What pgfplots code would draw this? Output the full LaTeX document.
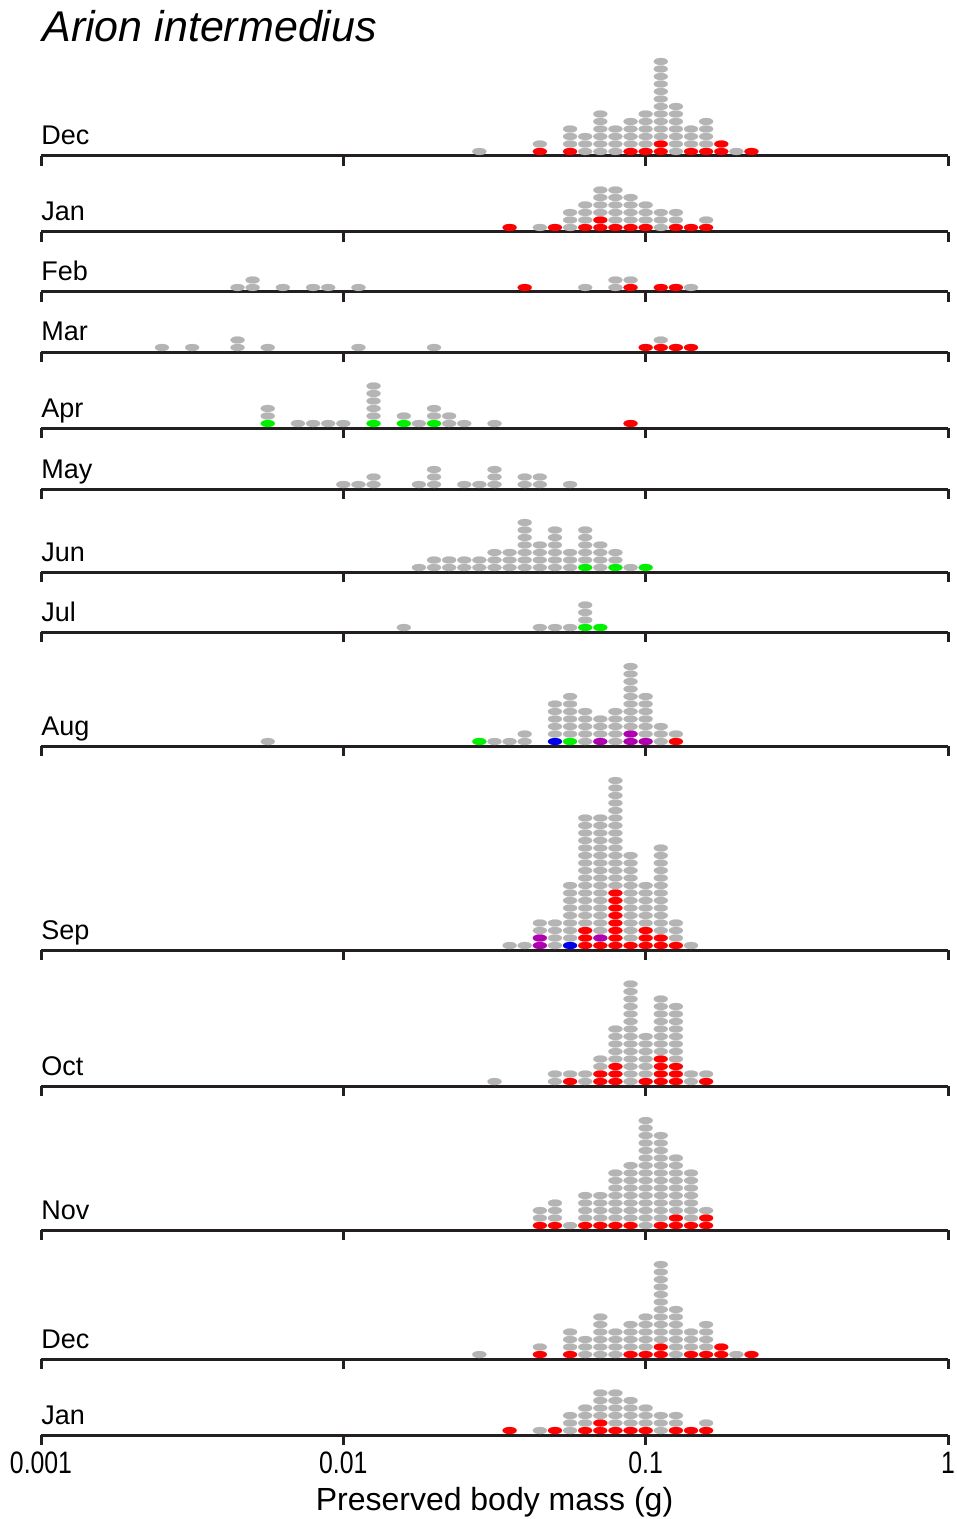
\documentclass[border=0pt]{standalone}
\usepackage{pgfplots}
\pgfplotsset{compat=1.18}
\usepackage{fontspec}
\setmainfont{Liberation Sans}
\definecolor{dgray}{RGB}{180,180,180}
\definecolor{dred}{RGB}{255,0,0}
\definecolor{dgreen}{RGB}{0,240,0}
\definecolor{dblue}{RGB}{0,0,235}
\definecolor{dpurple}{RGB}{175,0,175}
\definecolor{axc}{RGB}{35,31,32}
\pgfplotsset{
  panel/.style={
    scale only axis, width=453.5pt, y=3.75pt,
    xmin=-3, xmax=0, ymin=0.4,
    enlargelimits=false,
    axis x line*=bottom, axis y line=none,
    xtick={-3,-2,-1,0}, xticklabels={}, ytick=\empty,
    tick align=outside, major tick length=5pt,
    x axis line style={-, line width=1.5pt, color=axc},
    every tick/.style={line width=1.5pt, color=axc},
    clip=false, anchor=south west,
  },
  dots/.style={only marks, color=#1, mark=*, mark size=1.75pt, mark options={xscale=2, fill=#1, draw=#1, line width=0.1pt}},
}
\newcommand{\mlabel}[1]{\node[anchor=base west, font=\fontsize{13.5}{15}\selectfont, inner sep=0pt, yshift=5.5pt] at (rel axis cs:0,0) {#1};}
\begin{document}
\begin{tikzpicture}
\useasboundingbox (0,0) rectangle (478.5pt,-759.5pt);
\node[anchor=base west, font=\itshape\fontsize{21.5}{24}\selectfont, inner sep=0pt] at (21pt,-21pt) {Arion intermedius};

% Dec
\begin{axis}[panel, at={(20.5pt,-78pt)}]
\addplot[dots=dgray] coordinates {(-1.55,1) (-1.35,2) (-1.25,2) (-1.25,3) (-1.25,4) (-1.2,1) (-1.2,2) (-1.2,3) (-1.15,1) (-1.15,2) (-1.15,3) (-1.15,4) (-1.15,5) (-1.15,6) (-1.1,1) (-1.1,2) (-1.1,3) (-1.1,4) (-1.05,2) (-1.05,3) (-1.05,4) (-1.05,5) (-1,2) (-1,3) (-1,4) (-1,5) (-1,6) (-0.95,3) (-0.95,4) (-0.95,5) (-0.95,6) (-0.95,7) (-0.95,8) (-0.95,9) (-0.95,10) (-0.95,11) (-0.95,12) (-0.95,13) (-0.9,1) (-0.9,2) (-0.9,3) (-0.9,4) (-0.9,5) (-0.9,6) (-0.9,7) (-0.85,2) (-0.85,3) (-0.85,4) (-0.8,2) (-0.8,3) (-0.8,4) (-0.8,5) (-0.7,1)};
\addplot[dots=dred] coordinates {(-1.35,1) (-1.25,1) (-1.05,1) (-1,1) (-0.95,1) (-0.95,2) (-0.85,1) (-0.8,1) (-0.75,1) (-0.75,2) (-0.65,1)};
\mlabel{Dec}
\end{axis}

% Jan
\begin{axis}[panel, at={(20.5pt,-116pt)}]
\addplot[dots=dgray] coordinates {(-1.35,1) (-1.25,1) (-1.25,2) (-1.25,3) (-1.2,2) (-1.2,3) (-1.2,4) (-1.15,3) (-1.15,4) (-1.15,5) (-1.15,6) (-1.1,2) (-1.1,3) (-1.1,4) (-1.1,5) (-1.1,6) (-1.05,2) (-1.05,3) (-1.05,4) (-1.05,5) (-1,2) (-1,3) (-1,4) (-0.95,1) (-0.95,2) (-0.95,3) (-0.9,2) (-0.9,3) (-0.8,2)};
\addplot[dots=dred] coordinates {(-1.45,1) (-1.3,1) (-1.2,1) (-1.15,1) (-1.15,2) (-1.1,1) (-1.05,1) (-1,1) (-0.9,1) (-0.85,1) (-0.8,1)};
\mlabel{Jan}
\end{axis}

% Feb
\begin{axis}[panel, at={(20.5pt,-146pt)}]
\addplot[dots=dgray] coordinates {(-2.35,1) (-2.3,1) (-2.3,2) (-2.2,1) (-2.1,1) (-2.05,1) (-1.95,1) (-1.2,1) (-1.1,1) (-1.1,2) (-1.05,2) (-0.85,1)};
\addplot[dots=dred] coordinates {(-1.4,1) (-1.05,1) (-0.95,1) (-0.9,1)};
\mlabel{Feb}
\end{axis}

% Mar
\begin{axis}[panel, at={(20.5pt,-176pt)}]
\addplot[dots=dgray] coordinates {(-2.6,1) (-2.5,1) (-2.35,1) (-2.35,2) (-2.25,1) (-1.95,1) (-1.7,1) (-0.95,2)};
\addplot[dots=dred] coordinates {(-1,1) (-0.95,1) (-0.9,1) (-0.85,1)};
\mlabel{Mar}
\end{axis}

% Apr
\begin{axis}[panel, at={(20.5pt,-214pt)}]
\addplot[dots=dgray] coordinates {(-2.25,2) (-2.25,3) (-2.15,1) (-2.1,1) (-2.05,1) (-2,1) (-1.9,2) (-1.9,3) (-1.9,4) (-1.9,5) (-1.9,6) (-1.8,2) (-1.75,1) (-1.7,2) (-1.7,3) (-1.65,1) (-1.65,2) (-1.6,1) (-1.5,1)};
\addplot[dots=dgreen] coordinates {(-2.25,1) (-1.9,1) (-1.8,1) (-1.7,1)};
\addplot[dots=dred] coordinates {(-1.05,1)};
\mlabel{Apr}
\end{axis}

% May
\begin{axis}[panel, at={(20.5pt,-244.5pt)}]
\addplot[dots=dgray] coordinates {(-2,1) (-1.95,1) (-1.9,1) (-1.9,2) (-1.75,1) (-1.7,1) (-1.7,2) (-1.7,3) (-1.6,1) (-1.55,1) (-1.5,1) (-1.5,2) (-1.5,3) (-1.4,1) (-1.4,2) (-1.35,1) (-1.35,2) (-1.25,1)};
\mlabel{May}
\end{axis}

% Jun
\begin{axis}[panel, at={(20.5pt,-286pt)}]
\addplot[dots=dgray] coordinates {(-1.75,1) (-1.7,1) (-1.7,2) (-1.65,1) (-1.65,2) (-1.6,1) (-1.6,2) (-1.55,1) (-1.55,2) (-1.5,1) (-1.5,2) (-1.5,3) (-1.45,1) (-1.45,2) (-1.45,3) (-1.4,1) (-1.4,2) (-1.4,3) (-1.4,4) (-1.4,5) (-1.4,6) (-1.4,7) (-1.35,1) (-1.35,2) (-1.35,3) (-1.35,4) (-1.3,1) (-1.3,2) (-1.3,3) (-1.3,4) (-1.3,5) (-1.3,6) (-1.25,1) (-1.25,2) (-1.25,3) (-1.2,2) (-1.2,3) (-1.2,4) (-1.2,5) (-1.2,6) (-1.15,1) (-1.15,2) (-1.15,3) (-1.15,4) (-1.1,2) (-1.1,3) (-1.05,1)};
\addplot[dots=dgreen] coordinates {(-1.2,1) (-1.1,1) (-1,1)};
\mlabel{Jun}
\end{axis}

% Jul
\begin{axis}[panel, at={(20.5pt,-316pt)}]
\addplot[dots=dgray] coordinates {(-1.8,1) (-1.35,1) (-1.3,1) (-1.25,1) (-1.2,2) (-1.2,3) (-1.2,4)};
\addplot[dots=dgreen] coordinates {(-1.2,1) (-1.15,1)};
\mlabel{Jul}
\end{axis}

% Aug
\begin{axis}[panel, at={(20.5pt,-373pt)}]
\addplot[dots=dgray] coordinates {(-2.25,1) (-1.5,1) (-1.45,1) (-1.4,1) (-1.4,2) (-1.3,2) (-1.3,3) (-1.3,4) (-1.3,5) (-1.3,6) (-1.25,2) (-1.25,3) (-1.25,4) (-1.25,5) (-1.25,6) (-1.25,7) (-1.2,1) (-1.2,2) (-1.2,3) (-1.2,4) (-1.2,5) (-1.15,2) (-1.15,3) (-1.15,4) (-1.1,1) (-1.1,2) (-1.1,3) (-1.1,4) (-1.1,5) (-1.05,3) (-1.05,4) (-1.05,5) (-1.05,6) (-1.05,7) (-1.05,8) (-1.05,9) (-1.05,10) (-1.05,11) (-1,2) (-1,3) (-1,4) (-1,5) (-1,6) (-1,7) (-0.95,1) (-0.95,2) (-0.95,3) (-0.9,2)};
\addplot[dots=dgreen] coordinates {(-1.55,1) (-1.25,1)};
\addplot[dots=dblue] coordinates {(-1.3,1)};
\addplot[dots=dpurple] coordinates {(-1.15,1) (-1.05,1) (-1.05,2) (-1,1)};
\addplot[dots=dred] coordinates {(-0.9,1)};
\mlabel{Aug}
\end{axis}

% Sep
\begin{axis}[panel, at={(20.5pt,-475pt)}]
\addplot[dots=dgray] coordinates {(-1.45,1) (-1.4,1) (-1.35,3) (-1.35,4) (-1.3,1) (-1.3,2) (-1.3,3) (-1.3,4) (-1.25,2) (-1.25,3) (-1.25,4) (-1.25,5) (-1.25,6) (-1.25,7) (-1.25,8) (-1.25,9) (-1.2,4) (-1.2,5) (-1.2,6) (-1.2,7) (-1.2,8) (-1.2,9) (-1.2,10) (-1.2,11) (-1.2,12) (-1.2,13) (-1.2,14) (-1.2,15) (-1.2,16) (-1.2,17) (-1.2,18) (-1.15,3) (-1.15,4) (-1.15,5) (-1.15,6) (-1.15,7) (-1.15,8) (-1.15,9) (-1.15,10) (-1.15,11) (-1.15,12) (-1.15,13) (-1.15,14) (-1.15,15) (-1.15,16) (-1.15,17) (-1.15,18) (-1.1,9) (-1.1,10) (-1.1,11) (-1.1,12) (-1.1,13) (-1.1,14) (-1.1,15) (-1.1,16) (-1.1,17) (-1.1,18) (-1.1,19) (-1.1,20) (-1.1,21) (-1.1,22) (-1.1,23) (-1.05,2) (-1.05,3) (-1.05,4) (-1.05,5) (-1.05,6) (-1.05,7) (-1.05,8) (-1.05,9) (-1.05,10) (-1.05,11) (-1.05,12) (-1.05,13) (-1,4) (-1,5) (-1,6) (-1,7) (-1,8) (-1,9) (-0.95,3) (-0.95,4) (-0.95,5) (-0.95,6) (-0.95,7) (-0.95,8) (-0.95,9) (-0.95,10) (-0.95,11) (-0.95,12) (-0.95,13) (-0.95,14) (-0.9,2) (-0.9,3) (-0.9,4) (-0.85,1)};
\addplot[dots=dpurple] coordinates {(-1.35,1) (-1.35,2) (-1.15,2)};
\addplot[dots=dblue] coordinates {(-1.25,1)};
\addplot[dots=dred] coordinates {(-1.2,1) (-1.2,2) (-1.2,3) (-1.15,1) (-1.1,1) (-1.1,2) (-1.1,3) (-1.1,4) (-1.1,5) (-1.1,6) (-1.1,7) (-1.1,8) (-1.05,1) (-1,1) (-1,2) (-1,3) (-0.95,1) (-0.95,2) (-0.9,1)};
\mlabel{Sep}
\end{axis}

% Oct
\begin{axis}[panel, at={(20.5pt,-543pt)}]
\addplot[dots=dgray] coordinates {(-1.5,1) (-1.3,1) (-1.3,2) (-1.25,2) (-1.2,1) (-1.2,2) (-1.15,3) (-1.15,4) (-1.1,4) (-1.1,5) (-1.1,6) (-1.1,7) (-1.1,8) (-1.05,1) (-1.05,2) (-1.05,3) (-1.05,4) (-1.05,5) (-1.05,6) (-1.05,7) (-1.05,8) (-1.05,9) (-1.05,10) (-1.05,11) (-1.05,12) (-1.05,13) (-1.05,14) (-1,2) (-1,3) (-1,4) (-1,5) (-1,6) (-1,7) (-0.95,5) (-0.95,6) (-0.95,7) (-0.95,8) (-0.95,9) (-0.95,10) (-0.95,11) (-0.95,12) (-0.9,4) (-0.9,5) (-0.9,6) (-0.9,7) (-0.9,8) (-0.9,9) (-0.9,10) (-0.9,11) (-0.85,1) (-0.85,2) (-0.8,2)};
\addplot[dots=dred] coordinates {(-1.25,1) (-1.15,1) (-1.15,2) (-1.1,1) (-1.1,2) (-1.1,3) (-1,1) (-0.95,1) (-0.95,2) (-0.95,3) (-0.95,4) (-0.9,1) (-0.9,2) (-0.9,3) (-0.8,1)};
\mlabel{Oct}
\end{axis}

% Nov
\begin{axis}[panel, at={(20.5pt,-615pt)}]
\addplot[dots=dgray] coordinates {(-1.35,2) (-1.35,3) (-1.3,2) (-1.3,3) (-1.3,4) (-1.25,1) (-1.2,2) (-1.2,3) (-1.2,4) (-1.2,5) (-1.15,2) (-1.15,3) (-1.15,4) (-1.15,5) (-1.1,2) (-1.1,3) (-1.1,4) (-1.1,5) (-1.1,6) (-1.1,7) (-1.1,8) (-1.05,2) (-1.05,3) (-1.05,4) (-1.05,5) (-1.05,6) (-1.05,7) (-1.05,8) (-1.05,9) (-1,1) (-1,2) (-1,3) (-1,4) (-1,5) (-1,6) (-1,7) (-1,8) (-1,9) (-1,10) (-1,11) (-1,12) (-1,13) (-1,14) (-1,15) (-0.95,2) (-0.95,3) (-0.95,4) (-0.95,5) (-0.95,6) (-0.95,7) (-0.95,8) (-0.95,9) (-0.95,10) (-0.95,11) (-0.95,12) (-0.95,13) (-0.9,3) (-0.9,4) (-0.9,5) (-0.9,6) (-0.9,7) (-0.9,8) (-0.9,9) (-0.9,10) (-0.85,2) (-0.85,3) (-0.85,4) (-0.85,5) (-0.85,6) (-0.85,7) (-0.85,8) (-0.8,3)};
\addplot[dots=dred] coordinates {(-1.35,1) (-1.3,1) (-1.2,1) (-1.15,1) (-1.1,1) (-1.05,1) (-0.95,1) (-0.9,1) (-0.9,2) (-0.85,1) (-0.8,1) (-0.8,2)};
\mlabel{Nov}
\end{axis}

% Dec (2)
\begin{axis}[panel, at={(20.5pt,-679.5pt)}]
\addplot[dots=dgray] coordinates {(-1.55,1) (-1.35,2) (-1.25,2) (-1.25,3) (-1.25,4) (-1.2,1) (-1.2,2) (-1.2,3) (-1.15,1) (-1.15,2) (-1.15,3) (-1.15,4) (-1.15,5) (-1.15,6) (-1.1,1) (-1.1,2) (-1.1,3) (-1.1,4) (-1.05,2) (-1.05,3) (-1.05,4) (-1.05,5) (-1,2) (-1,3) (-1,4) (-1,5) (-1,6) (-0.95,3) (-0.95,4) (-0.95,5) (-0.95,6) (-0.95,7) (-0.95,8) (-0.95,9) (-0.95,10) (-0.95,11) (-0.95,12) (-0.95,13) (-0.9,1) (-0.9,2) (-0.9,3) (-0.9,4) (-0.9,5) (-0.9,6) (-0.9,7) (-0.85,2) (-0.85,3) (-0.85,4) (-0.8,2) (-0.8,3) (-0.8,4) (-0.8,5) (-0.7,1)};
\addplot[dots=dred] coordinates {(-1.35,1) (-1.25,1) (-1.05,1) (-1,1) (-0.95,1) (-0.95,2) (-0.85,1) (-0.8,1) (-0.75,1) (-0.75,2) (-0.65,1)};
\mlabel{Dec}
\end{axis}

% Jan (2)
\begin{axis}[panel, at={(20.5pt,-717.5pt)},
  xticklabels={0.001,0.01,0.1,1},
  xticklabel style={font=\fontsize{15.5}{17}\selectfont, xscale=0.8},
  xlabel={Preserved body mass (g)},
  xlabel style={font=\fontsize{16}{18}\selectfont}]
\addplot[dots=dgray] coordinates {(-1.35,1) (-1.25,1) (-1.25,2) (-1.25,3) (-1.2,2) (-1.2,3) (-1.2,4) (-1.15,3) (-1.15,4) (-1.15,5) (-1.15,6) (-1.1,2) (-1.1,3) (-1.1,4) (-1.1,5) (-1.1,6) (-1.05,2) (-1.05,3) (-1.05,4) (-1.05,5) (-1,2) (-1,3) (-1,4) (-0.95,1) (-0.95,2) (-0.95,3) (-0.9,2) (-0.9,3) (-0.8,2)};
\addplot[dots=dred] coordinates {(-1.45,1) (-1.3,1) (-1.2,1) (-1.15,1) (-1.15,2) (-1.1,1) (-1.05,1) (-1,1) (-0.9,1) (-0.85,1) (-0.8,1)};
\mlabel{Jan}
\end{axis}
\end{tikzpicture}
\end{document}
